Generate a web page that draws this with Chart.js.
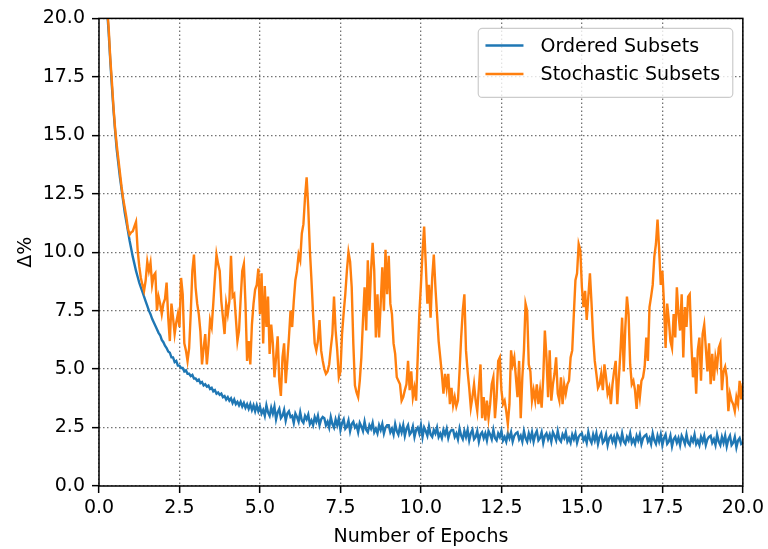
<!DOCTYPE html>
<html>
<head>
<meta charset="utf-8">
<script src="https://cdn.jsdelivr.net/npm/chart.js@4.4.1/dist/chart.umd.min.js"></script>
<style>
  html, body { margin: 0; padding: 0; background: #fff; }
  canvas { display: block; }
</style>
</head>
<body>
<canvas id="chart" width="768" height="549"></canvas>
<script>
// sampled every 0.05 epochs, starting at epoch 0.2
const epochStart = 0.2;
const epochStep = 0.05;

const orderedSubsets = [
  22.5, 20.4, 19.4, 18.2, 17.1, 16.1,
  15.2, 14.4, 13.8, 13.2, 12.7, 12.2, 11.7, 11.3, 10.9, 10.5,
  10.15, 9.8, 9.5, 9.2, 8.95, 8.7, 8.5, 8.3, 8.1, 7.9,
  7.7, 7.5, 7.35, 7.15, 7.0, 6.85, 6.7, 6.55, 6.45, 6.25,
  6.15, 6.0, 5.9, 5.75, 5.7, 5.5, 5.5, 5.3, 5.35, 5.15,
  5.15, 5.05, 5.05, 4.9, 4.95, 4.8, 4.8, 4.7, 4.75, 4.6,
  4.6, 4.5, 4.55, 4.4, 4.45, 4.3, 4.35, 4.25, 4.3, 4.15,
  4.2, 4.05, 4.1, 3.95, 4.0, 3.9, 3.95, 3.8, 3.85, 3.7,
  3.8, 3.65, 3.75, 3.55, 3.7, 3.5, 3.6, 3.45, 3.6, 3.4,
  3.55, 3.35, 3.5, 3.3, 3.5, 3.25, 3.45, 3.2, 3.45, 3.2,
  3.4, 3.1, 3.25, 3.0, 3.45, 3.15, 3.0, 3.35, 3.1, 3.4,
  2.85, 3.15, 3.3, 2.9, 3.0, 3.25, 2.8, 3.1, 3.2, 2.95,
  3.0, 2.7, 3.1, 2.95, 2.75, 3.15, 2.8, 2.7, 3.0, 2.85,
  3.05, 2.65, 2.8, 2.6, 2.95, 2.75, 3.0, 2.6, 2.85, 2.95,
  2.9, 2.6, 2.75, 2.5, 2.95, 2.65, 2.5, 2.85, 2.6, 2.9,
  2.4, 2.7, 2.85, 2.45, 2.55, 2.8, 2.35, 2.65, 2.75, 2.5,
  2.6, 2.3, 2.7, 2.55, 2.35, 2.75, 2.4, 2.3, 2.6, 2.45,
  2.7, 2.3, 2.45, 2.25, 2.6, 2.4, 2.65, 2.25, 2.5, 2.6,
  2.6, 2.3, 2.45, 2.2, 2.65, 2.35, 2.2, 2.55, 2.3, 2.6,
  2.15, 2.45, 2.6, 2.2, 2.3, 2.55, 2.1, 2.4, 2.5, 2.25,
  2.6, 2.1, 2.5, 2.35, 2.15, 2.55, 2.2, 2.1, 2.4, 2.25,
  2.5, 2.1, 2.25, 2.05, 2.4, 2.2, 2.45, 2.05, 2.3, 2.4,
  2.4, 2.1, 2.25, 2.0, 2.45, 2.15, 2.0, 2.35, 2.1, 2.4,
  1.95, 2.25, 2.4, 2.0, 2.1, 2.35, 1.9, 2.2, 2.3, 2.05,
  2.25, 1.95, 2.35, 2.2, 2.0, 2.4, 2.05, 1.95, 2.25, 2.1,
  2.35, 1.95, 2.1, 1.9, 2.25, 2.05, 2.3, 1.9, 2.15, 2.25,
  2.3, 2.0, 2.15, 1.9, 2.35, 2.05, 1.9, 2.25, 2.0, 2.3,
  1.9, 2.2, 2.35, 1.95, 2.05, 2.3, 1.85, 2.15, 2.25, 2.0,
  2.2, 1.9, 2.3, 2.15, 1.95, 2.35, 2.0, 1.9, 2.2, 2.05,
  2.3, 1.9, 2.05, 1.85, 2.2, 2.0, 2.25, 1.85, 2.1, 2.2,
  2.25, 1.95, 2.1, 1.85, 2.3, 2.0, 1.85, 2.2, 1.95, 2.25,
  1.8, 2.1, 2.25, 1.85, 1.95, 2.2, 1.75, 2.05, 2.15, 1.9,
  2.1, 1.8, 2.2, 2.05, 1.85, 2.25, 1.9, 1.8, 2.1, 1.95,
  2.25, 1.85, 2.0, 1.8, 2.15, 1.95, 2.2, 1.8, 2.05, 2.15,
  2.2, 1.9, 2.05, 1.8, 2.25, 1.95, 1.8, 2.15, 1.9, 2.2,
  1.75, 2.05, 2.2, 1.8, 1.9, 2.15, 1.7, 2.0, 2.1, 1.85,
  2.05, 1.75, 2.15, 2.0, 1.8, 2.2, 1.85, 1.75, 2.05, 1.9,
  2.2, 1.8, 1.95, 1.75, 2.1, 1.9, 2.15, 1.75, 2.0, 2.1,
  2.15, 1.85, 2.0, 1.75, 2.2, 1.9, 1.75, 2.1, 1.85, 2.15,
  1.7, 2.0, 2.15, 1.75, 1.85, 2.1, 1.65, 1.95, 2.05, 1.8,
  1.85
];

const stochasticSubsets = [
  22.5, 20.5, 19.6, 18.3, 17.3, 16.2,
  15.3, 14.6, 14.0, 13.4, 12.8, 12.3, 11.9, 11.5, 11.0, 10.75,
  10.85, 10.9, 11.1, 11.3, 10.1, 9.4, 8.9, 8.6, 8.35, 8.8,
  9.6, 9.2, 9.55, 8.6, 9.0, 9.1, 7.5, 8.1, 7.8, 7.35,
  7.8, 8.0, 8.7, 7.2, 6.2, 7.8, 7.2, 6.5, 7.0, 7.35,
  6.8, 8.9, 8.2, 6.1, 5.8, 5.35, 5.9, 7.4, 9.2, 9.9,
  8.5, 7.8, 7.35, 6.6, 5.2, 5.9, 6.5, 5.2, 6.0, 7.1,
  6.8, 7.8, 8.9, 9.9, 9.5, 9.2, 7.9, 7.2, 6.5, 7.8,
  7.35, 7.9, 9.85, 8.1, 8.2, 7.2, 6.2, 6.65, 8.0, 9.2,
  9.5, 7.8, 5.35, 6.2, 5.2, 6.9, 7.8, 8.4, 8.6, 9.3,
  7.35, 9.1, 6.1, 8.55, 6.8, 8.1, 5.65, 6.9, 6.1, 4.65,
  5.5, 6.4, 4.5, 3.85, 5.5, 6.1, 4.4, 5.35, 6.35, 7.5,
  6.8, 7.9, 8.8, 9.2, 9.9, 9.65, 10.8, 11.2, 12.35, 13.2,
  11.9, 10.1, 8.8, 7.35, 6.1, 5.8, 6.2, 7.1, 5.8, 5.35,
  5.0, 4.8, 4.9, 5.2, 5.9, 6.5, 8.1, 6.65, 5.8, 4.65,
  4.9, 6.5, 7.4, 8.2, 9.2, 10.0, 9.6, 8.5, 6.1, 4.3,
  4.0, 3.8, 4.5, 5.5, 7.1, 8.5, 6.65, 9.65, 7.5, 9.2,
  10.4, 9.2, 6.35, 8.2, 6.35, 7.8, 9.35, 7.5, 10.1, 8.2,
  9.85, 7.8, 7.35, 6.1, 5.65, 4.65, 4.5, 4.35, 3.65, 3.8,
  4.1, 4.35, 5.35, 4.1, 4.9, 3.8, 4.2, 3.65, 5.5, 7.35,
  8.6, 10.0, 11.1, 9.5, 7.8, 8.6, 7.2, 8.9, 9.9, 8.5,
  7.35, 6.2, 5.5, 4.8, 3.95, 4.8, 4.2, 4.8, 3.5, 4.2,
  3.45, 3.8, 3.4, 3.65, 4.9, 6.35, 7.5, 8.2, 5.8, 4.9,
  4.2, 3.35, 3.8, 4.35, 3.65, 3.2, 4.2, 5.2, 2.9, 3.8,
  2.8, 3.65, 2.9, 3.5, 4.35, 4.65, 2.9, 3.8, 5.35, 5.5,
  4.1, 3.5, 3.65, 3.2, 2.65, 3.5, 5.8, 5.2, 5.5, 4.65,
  3.8, 5.35, 2.9, 4.65, 5.8, 7.8, 7.5, 5.2, 4.9, 3.65,
  4.1, 3.65, 4.35, 3.5, 4.1, 3.35, 4.65, 6.65, 5.5, 3.8,
  5.8, 3.65, 4.35, 4.8, 5.5, 3.95, 3.65, 4.65, 3.5, 4.35,
  3.95, 4.35, 4.5, 5.5, 5.8, 7.35, 8.8, 9.1, 10.35, 10.1,
  8.5, 7.65, 8.35, 7.1, 8.1, 9.1, 7.8, 6.35, 5.35, 4.8,
  4.2, 4.35, 4.8, 4.1, 5.2, 4.65, 3.95, 4.2, 3.5, 4.35,
  4.9, 5.35, 3.5, 4.65, 5.8, 7.2, 4.9, 6.8, 8.1, 7.35,
  5.2, 4.35, 4.5, 4.1, 3.3, 4.35, 3.8, 4.5, 4.65, 5.1,
  6.35, 5.35, 7.65, 8.1, 8.6, 9.8, 10.35, 11.4, 10.1, 8.6,
  9.2, 7.8, 5.9, 7.8, 7.1, 6.2, 5.9, 7.35, 6.35, 8.5,
  7.35, 6.65, 8.2, 5.5, 7.65, 6.8, 8.1, 8.2, 6.1, 4.65,
  5.5, 3.95, 5.8, 6.35, 4.5, 6.5, 6.9, 5.9, 4.9, 6.1,
  4.35, 5.65, 4.5, 5.5, 5.1, 5.9, 6.1, 4.1, 4.9, 5.1,
  4.65, 3.2, 3.95, 3.65, 3.5, 3.2, 3.8, 3.5, 4.5, 3.7,
  4.4
];

const epochs = orderedSubsets.map((_, i) => +(epochStart + i * epochStep).toFixed(2));
const axisTicks = [0, 2.5, 5, 7.5, 10, 12.5, 15, 17.5, 20];

const toPoints = values => values.map((v, i) => ({ x: epochs[i], y: v }));

const FONT = "'DejaVu Sans', sans-serif";
const FONT_SIZE = 19;
Chart.defaults.font.family = FONT;
Chart.defaults.font.size = FONT_SIZE;
Chart.defaults.color = '#000';

// black box around the plot area, drawn over the lines
const frame = {
  id: 'frame',
  afterDatasetsDraw(chart) {
    const { ctx, chartArea: a } = chart;
    ctx.save();
    ctx.strokeStyle = '#000';
    ctx.lineWidth = 1.5;
    ctx.strokeRect(a.left, a.top, a.right - a.left, a.bottom - a.top);
    ctx.restore();
  }
};

// legend box in the upper right corner of the plot
const insetLegend = {
  id: 'insetLegend',
  afterDraw(chart) {
    const { ctx, chartArea: a } = chart;
    const fs = FONT_SIZE;
    const sets = chart.data.datasets;
    ctx.save();
    ctx.font = fs + 'px ' + FONT;
    const textW = Math.max(...sets.map(d => ctx.measureText(d.label).width));
    const w = 0.4 * fs + 2 * fs + 0.8 * fs + textW + 0.75 * fs;
    const h = 3.63 * fs;
    const right = a.right - 0.53 * fs;
    const top = a.top + 0.53 * fs;
    const left = right - w;

    ctx.beginPath();
    ctx.roundRect(left, top, w, h, 4);
    ctx.fillStyle = 'rgba(255,255,255,0.8)';
    ctx.fill();
    ctx.strokeStyle = '#cccccc';
    ctx.lineWidth = 1.2;
    ctx.stroke();

    sets.forEach((d, i) => {
      const y = top + 0.9 * fs + i * 1.5 * fs;
      const x0 = left + 0.38 * fs;
      ctx.beginPath();
      ctx.moveTo(x0, y);
      ctx.lineTo(x0 + 2 * fs, y);
      ctx.strokeStyle = d.borderColor;
      ctx.lineWidth = d.borderWidth;
      ctx.stroke();
      ctx.fillStyle = '#000';
      ctx.textBaseline = 'middle';
      ctx.textAlign = 'left';
      ctx.fillText(d.label, x0 + 2.9 * fs, y + 1);
    });
    ctx.restore();
  }
};

const gridStyle = {
  color: 'rgba(0,0,0,0.55)',
  lineWidth: 1.3,
  drawTicks: true,
  tickLength: 7,
  tickColor: '#000',
  tickWidth: 1.5,
  tickBorderDash: []
};

// dotted grid lines; the axis line itself comes from the frame plugin
const borderStyle = { display: false, dash: [1.5, 2.5] };

new Chart(document.getElementById('chart'), {
  type: 'line',
  data: {
    datasets: [
      {
        label: 'Ordered Subsets',
        data: toPoints(orderedSubsets),
        borderColor: '#1f77b4',
        borderWidth: 2.4,
        pointRadius: 0,
        tension: 0,
        order: 2
      },
      {
        label: 'Stochastic Subsets',
        data: toPoints(stochasticSubsets),
        borderColor: '#ff7f0e',
        borderWidth: 2.4,
        pointRadius: 0,
        tension: 0,
        order: 1
      }
    ]
  },
  options: {
    responsive: false,
    animation: false,
    layout: { padding: { top: 17, right: 25, left: 0, bottom: 0 } },
    plugins: {
      legend: { display: false },
      tooltip: { enabled: false }
    },
    scales: {
      x: {
        type: 'linear',
        min: 0,
        max: 20,
        afterBuildTicks: scale => { scale.ticks = axisTicks.map(v => ({ value: v })); },
        afterFit: scale => { scale.height = 63; },
        ticks: { padding: 4, maxRotation: 0, callback: v => v.toFixed(1) },
        grid: gridStyle,
        border: borderStyle,
        title: { display: true, text: 'Number of Epochs', padding: { top: 0, bottom: 1 } }
      },
      y: {
        min: 0,
        max: 20,
        afterBuildTicks: scale => { scale.ticks = axisTicks.map(v => ({ value: v })); },
        afterFit: scale => { scale.width = 99; },
        ticks: { padding: 7, callback: v => v.toFixed(1) },
        grid: gridStyle,
        border: borderStyle,
        title: { display: true, text: 'Δ%', padding: { top: 15, bottom: 0 } }
      }
    }
  },
  plugins: [frame, insetLegend]
});
</script>
</body>
</html>
